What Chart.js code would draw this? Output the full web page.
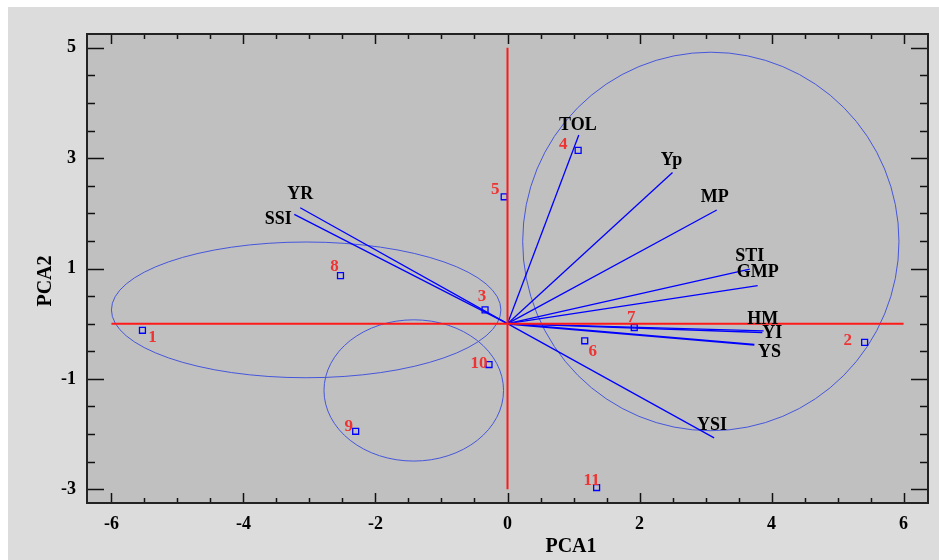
<!DOCTYPE html>
<html><head><meta charset="utf-8">
<script src="https://cdn.jsdelivr.net/npm/chart.js@4/dist/chart.umd.min.js"></script>
<style>
html,body{margin:0;padding:0;background:#fff;width:939px;height:560px;overflow:hidden;}
#wrap{position:absolute;left:8px;top:7px;width:931px;height:553px;background:#dcdcdc;}
canvas{display:block;}
</style></head><body><div id="wrap"><canvas id="c" width="931" height="553"></canvas></div>
<script>
// ---- data ----
const genotypes = ['1','2','3','4','5','6','7','8','9','10','11'];
const genoX = [-5.53, 5.41, -0.34, 1.07, -0.05, 1.17, 1.92, -2.53, -2.30, -0.28, 1.35];
const genoY = [-0.12, -0.34, 0.25, 3.14, 2.30, -0.31, -0.07, 0.87, -1.95, -0.74, -2.97];

const traits = ['TOL','Yp','MP','STI','GMP','HM','YI','YS','YSI','SSI','YR'];
const traitX = [1.08, 2.50, 3.17, 3.67, 3.79, 3.88, 3.86, 3.74, 3.13, -3.23, -3.14];
const traitY = [3.42, 2.74, 2.06, 0.99, 0.69, -0.13, -0.16, -0.38, -2.07, 1.98, 2.10];

const ellipseCX = [3.08, -3.05, -1.42];
const ellipseCY = [1.49, 0.25, -1.21];
const ellipseRX = [2.85, 2.95, 1.36];
const ellipseRY = [3.43, 1.23, 1.28];

const xTicks = [-6, -4, -2, 0, 2, 4, 6];
const yTicks = [5, 3, 1, -1, -3];
const xTitle = 'PCA1';
const yTitle = 'PCA2';

// ---- label placement (pixels, style only) ----
const genoLabelOffset = [[10,7],[-17,-2],[-3,-13],[-15,-6],[-9,-7],[8,11],[-3,-10],[-6,-9],[-7,-5],[-10,-1],[-5,-7]];
const traitLabelOffset = [[-1,-10],[-1,-12],[-2,-13],[0,-13],[0,-13],[-1,-12],[10,1],[15,8],[-2,-13],[-16,5],[0,-13]];

const SERIF = '"Liberation Serif","Times New Roman",serif';

const datasets = [];
datasets.push({data:[{x:xTicks[0],y:0},{x:xTicks[xTicks.length-1],y:0}], showLine:true, borderColor:'#ff1a1a', borderWidth:2, pointRadius:0});
datasets.push({data:[{x:0,y:yTicks[yTicks.length-1]},{x:0,y:yTicks[0]}], showLine:true, borderColor:'#ff1a1a', borderWidth:2, pointRadius:0});
traits.forEach((t,i)=>{
  datasets.push({label:t, data:[{x:0,y:0},{x:traitX[i],y:traitY[i]}], showLine:true, borderColor:'#0000ff', borderWidth: t==='YS'?2:1.3, pointRadius:0});
});
datasets.push({label:'genotypes', data: genoX.map((x,i)=>({x:x,y:genoY[i]})), showLine:false, pointStyle:'rect', pointRadius:4.2, borderColor:'#0000ff', backgroundColor:'rgba(0,0,0,0)', pointBorderWidth:1.3});

const decor = {
  id:'decor',
  beforeDraw(chart){
    const {ctx, chartArea:a} = chart;
    ctx.save();
    ctx.fillStyle = '#c0c0c0';
    ctx.fillRect(a.left, a.top, a.right-a.left, a.bottom-a.top);
    ctx.restore();
  },
  beforeDatasetsDraw(chart){
    const {ctx, chartArea:a, scales:{x,y}} = chart;
    ctx.save();
    ctx.beginPath(); ctx.rect(a.left,a.top,a.right-a.left,a.bottom-a.top); ctx.clip();
    ctx.strokeStyle = '#4656dc'; ctx.lineWidth = 1;
    for (let i=0;i<ellipseCX.length;i++){
      const cx = x.getPixelForValue(ellipseCX[i]);
      const cy = y.getPixelForValue(ellipseCY[i]);
      const rx = Math.abs(x.getPixelForValue(ellipseCX[i]+ellipseRX[i]) - cx);
      const ry = Math.abs(y.getPixelForValue(ellipseCY[i]+ellipseRY[i]) - cy);
      ctx.beginPath(); ctx.ellipse(cx, cy, rx, ry, 0, 0, Math.PI*2); ctx.stroke();
    }
    ctx.restore();
  },
  afterDatasetsDraw(chart){
    const {ctx, chartArea:a, scales:{x,y}} = chart;
    ctx.save();
    // inward ticks
    ctx.strokeStyle = '#111'; ctx.lineWidth = 1.5;
    for (let v=-6; v<=6.001; v+=0.5){
      const px = Math.round(x.getPixelForValue(v))+0.5;
      const major = xTicks.some(t=>Math.abs(t-v)<1e-6);
      const L = major?10:5;
      ctx.beginPath();
      ctx.moveTo(px,a.bottom); ctx.lineTo(px,a.bottom-L);
      ctx.moveTo(px,a.top); ctx.lineTo(px,a.top+L);
      ctx.stroke();
    }
    for (let v=-3; v<=5.001; v+=0.5){
      const py = Math.round(y.getPixelForValue(v))+0.5;
      const major = yTicks.some(t=>Math.abs(t-v)<1e-6);
      const L = major?17:8;
      ctx.beginPath();
      ctx.moveTo(a.left,py); ctx.lineTo(a.left+L,py);
      ctx.moveTo(a.right,py); ctx.lineTo(a.right-L,py);
      ctx.stroke();
    }
    // border
    ctx.strokeStyle = '#222'; ctx.lineWidth = 2;
    ctx.strokeRect(a.left, a.top, a.right-a.left, a.bottom-a.top);
    // labels
    ctx.textAlign = 'center'; ctx.textBaseline = 'middle';
    ctx.font = 'bold 17px '+SERIF; ctx.fillStyle = '#ee3333';
    genotypes.forEach((g,i)=>{
      ctx.fillText(g, x.getPixelForValue(genoX[i])+genoLabelOffset[i][0], y.getPixelForValue(genoY[i])+genoLabelOffset[i][1]);
    });
    ctx.font = 'bold 18px '+SERIF; ctx.fillStyle = '#000';
    traits.forEach((t,i)=>{
      ctx.fillText(t, x.getPixelForValue(traitX[i])+traitLabelOffset[i][0], y.getPixelForValue(traitY[i])+traitLabelOffset[i][1]);
    });
    // axis titles
    ctx.font = 'bold 20px '+SERIF; ctx.fillStyle = '#000';
    ctx.fillText(xTitle, 563, 540);
    ctx.translate(38, 274); ctx.rotate(-Math.PI/2);
    ctx.fillText(yTitle, 0, 0);
    ctx.restore();
  }
};

new Chart(document.getElementById('c'), {
  type:'scatter',
  data:{datasets},
  options:{
    responsive:false, animation:false,
    layout:{padding:{top:27,right:11,left:0,bottom:0}},
    plugins:{legend:{display:false}, tooltip:{enabled:false}},
    scales:{
      x:{type:'linear', position:'bottom', min:-6.37, max:6.37,
        afterBuildTicks:s=>{s.ticks = xTicks.map(v=>({value:v}));},
        afterFit:s=>{s.height = 57;},
        grid:{drawOnChartArea:false, drawTicks:false},
        border:{display:false},
        ticks:{color:'#000', padding:11, maxRotation:0, autoSkip:false, font:{family:SERIF, size:18, weight:'bold'}}
      },
      y:{type:'linear', position:'left', min:-3.25, max:5.25,
        afterBuildTicks:s=>{s.ticks = yTicks.map(v=>({value:v}));},
        afterFit:s=>{s.width = 79;},
        grid:{drawOnChartArea:false, drawTicks:false},
        border:{display:false},
        ticks:{color:'#000', padding:11, autoSkip:false, font:{family:SERIF, size:18, weight:'bold'}}
      }
    }
  },
  plugins:[decor]
});
</script></body></html>
